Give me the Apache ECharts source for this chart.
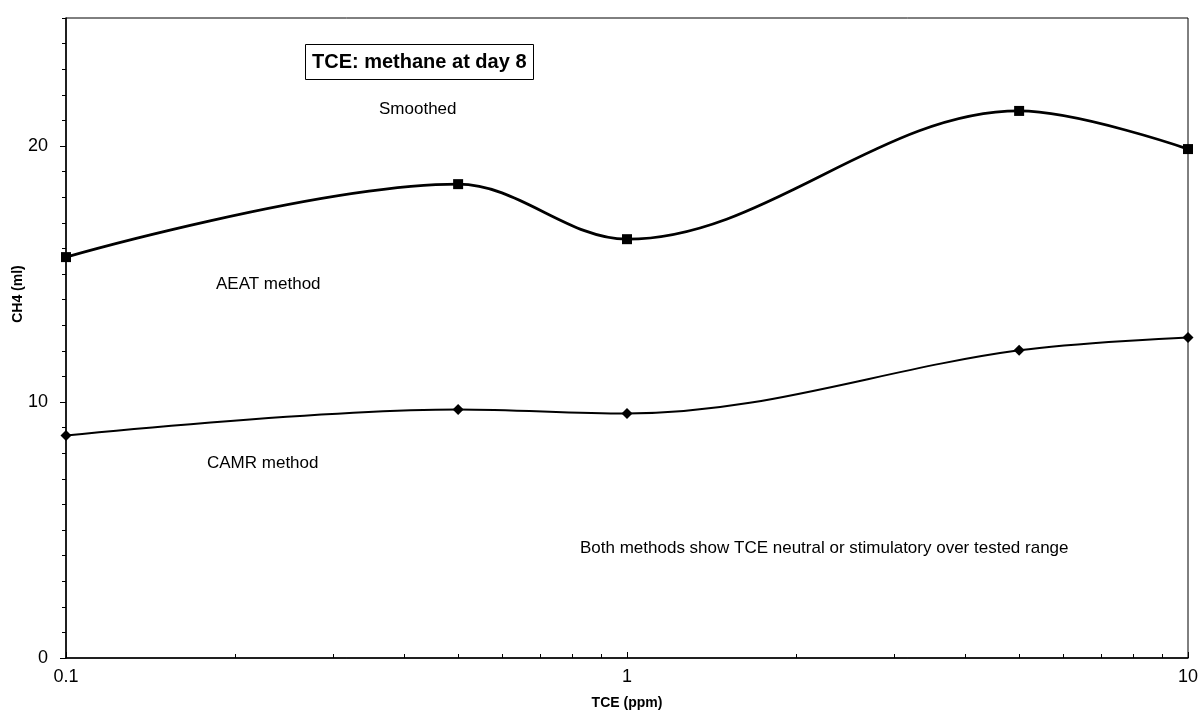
<!DOCTYPE html>
<html>
<head>
<meta charset="utf-8">
<script src="https://cdn.jsdelivr.net/npm/echarts@6/dist/echarts.min.js"></script>
<style>
  html, body { margin: 0; padding: 0; background: #fff; }
  #chart { width: 1204px; height: 715px; }
</style>
</head>
<body>
<div id="chart"></div>
<script>
// TCE concentrations (ppm) tested
const tce = [0.1, 0.5, 1, 5, 10];
// Methane produced at day 8 (ml)
const aeat = [15.66, 18.51, 16.36, 21.37, 19.88];
const camr = [8.69, 9.71, 9.55, 12.02, 12.52];

const xMajorTicks = [0.1, 1, 10];
const xMinorTicks = [0.2, 0.3, 0.4, 0.5, 0.6, 0.7, 0.8, 0.9, 2, 3, 4, 5, 6, 7, 8, 9];
const yMajorTicks = [0, 10, 20];
const yMinorTicks = [1, 2, 3, 4, 5, 6, 7, 8, 9, 11, 12, 13, 14, 15, 16, 17, 18, 19, 21, 22, 23, 24, 25];

const FONT = 'Liberation Sans, Arial, sans-serif';

const chart = echarts.init(document.getElementById('chart'), null, { renderer: 'canvas' });

const pairs = (xs, ys) => xs.map((x, i) => [x, ys[i]]);

chart.setOption({
  animation: false,
  backgroundColor: '#fff',
  title: {
    text: 'TCE: methane at day 8',
    left: 305,
    top: 44,
    padding: [8, 7, 8, 7],
    borderColor: '#000',
    borderWidth: 1,
    textStyle: { fontFamily: FONT, fontSize: 20, fontWeight: 'bold', color: '#000' }
  },
  grid: {
    left: 66, right: 16, top: 18, bottom: 57,
    show: true, borderColor: '#000', borderWidth: 1, backgroundColor: 'transparent'
  },
  xAxis: [
    {
      type: 'log', logBase: 10, min: 0.1, max: 10,
      name: 'TCE (ppm)', nameLocation: 'middle', nameGap: 38,
      nameTextStyle: { fontFamily: FONT, fontSize: 14, fontWeight: 'bold', color: '#000' },
      axisLine: { show: true, lineStyle: { color: '#000', width: 1.5 } },
      axisTick: { show: true, inside: true, length: 6, customValues: xMajorTicks, lineStyle: { color: '#000' } },
      axisLabel: {
        customValues: xMajorTicks, margin: 10,
        fontFamily: FONT, fontSize: 18, color: '#000',
        formatter: v => String(+v.toPrecision(3))
      },
      splitLine: { show: false }
    },
    {
      type: 'log', logBase: 10, min: 0.1, max: 10, position: 'bottom',
      axisLine: { show: false },
      axisTick: { show: true, inside: true, length: 4, customValues: xMinorTicks, lineStyle: { color: '#000' } },
      axisLabel: { show: false },
      splitLine: { show: false }
    }
  ],
  yAxis: [
    {
      type: 'value', min: 0, max: 25, interval: 10,
      axisLine: { show: true, lineStyle: { color: '#000', width: 1.5 } },
      axisTick: { show: true, length: 6, customValues: yMajorTicks, lineStyle: { color: '#000' } },
      axisLabel: { customValues: yMajorTicks, margin: 18, fontFamily: FONT, fontSize: 18, color: '#000' },
      splitLine: { show: false }
    },
    {
      type: 'value', min: 0, max: 25, position: 'left',
      axisLine: { show: false },
      axisTick: { show: true, length: 4, customValues: yMinorTicks, lineStyle: { color: '#000' } },
      axisLabel: { show: false },
      splitLine: { show: false }
    }
  ],
  series: [
    {
      name: 'AEAT method', type: 'line', smooth: 0.35,
      data: pairs(tce, aeat),
      symbol: 'rect', symbolSize: 10,
      itemStyle: { color: '#000' },
      lineStyle: { color: '#000', width: 2.8 }
    },
    {
      name: 'CAMR method', type: 'line', smooth: 0.35,
      data: pairs(tce, camr),
      symbol: 'diamond', symbolSize: 11,
      itemStyle: { color: '#000' },
      lineStyle: { color: '#000', width: 2 }
    }
  ],
  graphic: [
    // y-axis title, rotated
    { type: 'text', x: 18, y: 294, rotation: Math.PI / 2,
      style: { text: 'CH4 (ml)', font: 'bold 14px ' + FONT, fill: '#000', align: 'center', verticalAlign: 'middle' } },
    { type: 'text', left: 379, top: 101, style: { text: 'Smoothed', font: '17px ' + FONT, fill: '#000' } },
    { type: 'text', left: 216, top: 276, style: { text: 'AEAT method', font: '17px ' + FONT, fill: '#000' } },
    { type: 'text', left: 207, top: 455, style: { text: 'CAMR method', font: '17px ' + FONT, fill: '#000' } },
    { type: 'text', left: 580, top: 540, style: { text: 'Both methods show TCE neutral or stimulatory over tested range', font: '17px ' + FONT, fill: '#000' } }
  ]
});
</script>
</body>
</html>
